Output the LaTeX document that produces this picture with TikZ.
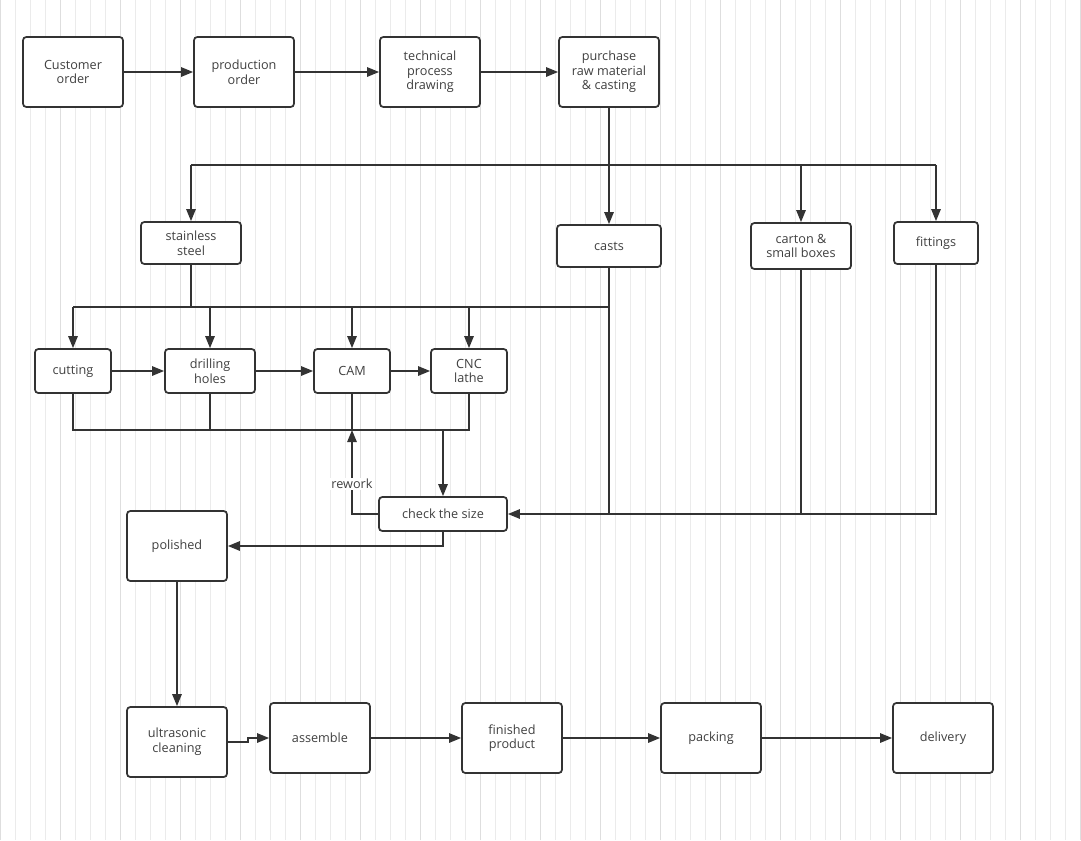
\documentclass[tikz,border=0pt]{standalone}
\usepackage{fontspec}
\setmainfont{Open Sans}
\usetikzlibrary{arrows.meta}
\begin{document}
\begin{tikzpicture}[x=0.75pt,y=-0.75pt,
 box/.style={draw=black!80,line width=1.3pt,rounded corners=2.5pt,fill=white,align=center,font=\fontsize{9.5}{11}\selectfont,text=black!75,inner sep=1pt},
 ln/.style={draw=black!80,line width=1.3pt},
 ar/.style={ln,-{Triangle[length=9pt,width=7pt]}}]
\fill[white] (0,0) rectangle (1081,840);
\useasboundingbox (0,0) rectangle (1081,840);
\draw[black!8,line width=0.4pt] (0,0) grid[step=15] (1081,840);
\draw[black!13,line width=0.6pt] (0,0) grid[step=60] (1081,840);
\def\bx#1#2#3#4#5#6{\node[box,minimum width=#4*0.75pt,minimum height=#5*0.75pt] (#1) at (#2,#3) {#6};}
\bx{cust}{73}{72}{100}{70}{Customer\\order}
\bx{prod}{244}{72}{100}{70}{production\\order}
\bx{tech}{430}{72}{100}{70}{technical\\process\\drawing}
\bx{purch}{609}{72}{100}{70}{purchase\\raw material\\\& casting}
\bx{ss}{191}{243}{100}{42}{stainless\\steel}
\bx{casts}{609}{246}{104}{42}{casts}
\bx{carton}{801}{246}{100}{46}{carton \&\\small boxes}
\bx{fit}{936}{243}{84}{42}{fittings}
\bx{cut}{73}{371}{76}{44}{cutting}
\bx{drill}{210}{371}{90}{44}{drilling\\holes}
\bx{cam}{352}{371}{76}{44}{CAM}
\bx{cnc}{469}{371}{76}{44}{CNC\\lathe}
\bx{check}{443}{514}{128}{34}{check the size}
\bx{pol}{177}{546}{100}{70}{polished}
\bx{ultra}{177}{742}{100}{70}{ultrasonic\\cleaning}
\bx{asm}{320}{738}{100}{70}{assemble}
\bx{fin}{512}{738}{100}{70}{finished\\product}
\bx{pack}{711}{738}{100}{70}{packing}
\bx{del}{943}{738}{100}{70}{delivery}
\coordinate (b1) at (609,165);
\coordinate (b2) at (191,307);
\coordinate (j) at (443,430);
\draw[ar] (cust) -- (prod);
\draw[ar] (prod) -- (tech);
\draw[ar] (tech) -- (purch);
\draw[ln] (purch.south) -- (b1);
\draw[ln] (191,165) -- (936,165);
\draw[ar] (191,165) -- (ss.north);
\draw[ar] (b1) -- (casts.north);
\draw[ar] (801,165) -- (carton.north);
\draw[ar] (936,165) -- (fit.north);
\draw[ln] (ss.south) -- (b2);
\draw[ln] (73,307) -- (609,307);
\draw[ln] (casts.south) -- (609,514);
\draw[ar] (73,307) -- (cut.north);
\draw[ar] (210,307) -- (drill.north);
\draw[ar] (352,307) -- (cam.north);
\draw[ar] (469,307) -- (cnc.north);
\draw[ar] (cut) -- (drill);
\draw[ar] (drill) -- (cam);
\draw[ar] (cam) -- (cnc);
\draw[ln] (cut.south) -- (73,430) -- (j);
\draw[ln] (drill.south) -- (210,430);
\draw[ln] (cam.south) -- (352,430);
\draw[ln] (cnc.south) -- (469,430) -- (j);
\draw[ar] (j) -- (check.north);
\draw[ar] (check.west) -- (352,514) -- (352,430);
\node[fill=white,inner sep=1pt,font=\fontsize{9.5}{11}\selectfont,text=black!75] (rw) at (352,484) {rework};
\draw[ar] (936,264) -- (936,514) -- (check.east);
\draw[ln] (carton.south) -- (801,514);
\draw[ar] (check.south) -- (443,546) -- (pol.east);
\draw[ar] (pol.south) -- (ultra.north);
\draw[ar] (ultra.east) -- (248,742) -- (248,738) -- (asm.west);
\draw[ar] (asm) -- (fin);
\draw[ar] (fin) -- (pack);
\draw[ar] (pack) -- (del);
\end{tikzpicture}
\end{document}
